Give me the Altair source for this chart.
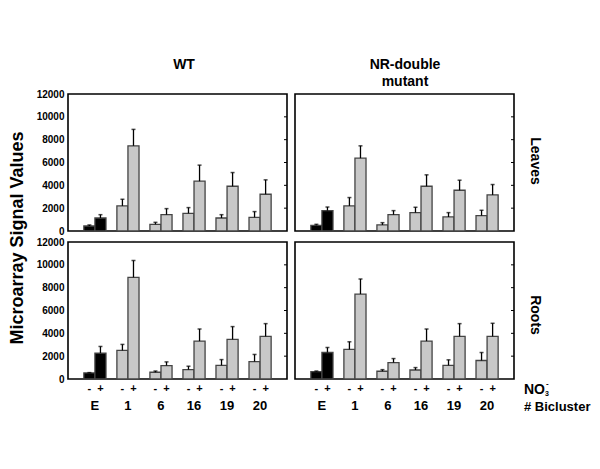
import altair as alt
import pandas as pd

FONT = "Liberation Sans"

groups = ["E", "1", "6", "16", "19", "20"]
signs = ["-", "+"]
y_ticks = [0, 2000, 4000, 6000, 8000, 10000, 12000]
inner_ticks = [2000, 4000, 6000, 8000, 10000]

col_titles = ["WT", "NR-double", "mutant"]
row_titles = ["Leaves", "Roots"]
y_title = "Microarray Signal Values"
nitrate_label = ["NO", "3", "-"]
group_title = "# Bicluster"

# WT leaves
wt_leaf_minus = [440, 2200, 585, 1550, 1140, 1200]
wt_leaf_minus_err = [90, 580, 175, 500, 290, 500]
wt_leaf_plus = [1140, 7460, 1430, 4360, 3920, 3220]
wt_leaf_plus_err = [290, 1440, 530, 1410, 1200, 1260]
# NR-double mutant leaves
mu_leaf_minus = [500, 2200, 530, 1610, 1230, 1350]
mu_leaf_minus_err = [85, 730, 200, 470, 380, 465]
mu_leaf_plus = [1785, 6380, 1430, 3920, 3570, 3160]
mu_leaf_plus_err = [315, 1080, 355, 1000, 880, 910]
# WT roots
wt_root_minus = [530, 2500, 590, 820, 1200, 1530]
wt_root_minus_err = [30, 530, 110, 300, 500, 620]
wt_root_plus = [2265, 8910, 1180, 3320, 3470, 3735]
wt_root_plus_err = [585, 1470, 320, 1060, 1120, 1115]
# NR-double mutant roots
mu_root_minus = [650, 2590, 680, 790, 1200, 1620]
mu_root_minus_err = [50, 670, 140, 210, 480, 700]
mu_root_plus = [2320, 7440, 1440, 3320, 3735, 3735]
mu_root_plus_err = [440, 1320, 350, 1060, 1115, 1145]

W, H = 219, 137
BLACK_FILL = "#000000"
GRAY_FILL = "#c8c8c8"


def label(text, x, y, size, angle=0, align="center"):
    return alt.Chart(pd.DataFrame({"t": [text]})).mark_text(
        font=FONT, fontWeight="bold", fontSize=size, angle=angle,
        align=align, baseline="middle", color="black"
    ).encode(x=alt.value(x), y=alt.value(y), text="t:N")


def panel(minus, minus_err, plus, plus_err, show_y, show_x, extras):
    rows = []
    for i, g in enumerate(groups):
        fill = BLACK_FILL if g == "E" else GRAY_FILL
        rows.append({"group": g, "sign": "-", "value": minus[i],
                     "top": minus[i] + minus_err[i], "fill": fill})
        rows.append({"group": g, "sign": "+", "value": plus[i],
                     "top": plus[i] + plus_err[i], "fill": fill})
    df = pd.DataFrame(rows)
    base = alt.Chart(df)
    x = alt.X("group:N", sort=groups,
              scale=alt.Scale(domain=groups, paddingInner=0.33, paddingOuter=0.48),
              axis=None)
    xo = alt.XOffset("sign:N", sort=signs,
                     scale=alt.Scale(domain=signs, paddingInner=0, paddingOuter=0))

    def yaxis():
        if not show_y:
            return None
        return alt.Axis(values=y_ticks, ticks=False, domain=False, grid=False,
                        format="d", labelOverlap=False, labelFlush=False,
                        labelFont=FONT, labelFontWeight="bold", labelFontSize=10,
                        labelColor="black", labelPadding=4, title=None)

    yscale = alt.Scale(domain=[0, 12000], nice=False, zero=True)
    bars = base.mark_bar(stroke="#444444", strokeWidth=1.3).encode(
        x=x, xOffset=xo,
        y=alt.Y("value:Q", scale=yscale, axis=yaxis()),
        fill=alt.Fill("fill:N", scale=None),
    )
    err = base.mark_rule(color="black", strokeWidth=1.3).encode(
        x=x, xOffset=xo, y=alt.Y("value:Q", scale=yscale, axis=yaxis()), y2="top:Q")
    cap = base.mark_tick(color="black", thickness=1.5, size=4, orient="horizontal").encode(
        x=x, xOffset=xo, y=alt.Y("top:Q", scale=yscale, axis=yaxis()))
    rtick = alt.Chart(pd.DataFrame({"v": inner_ticks})).mark_rule(
        color="black", strokeWidth=1).encode(
        y=alt.Y("v:Q", scale=yscale, axis=yaxis()), x=alt.value(W - 3), x2=alt.value(W))
    layers = [bars, err, cap, rtick]
    if show_x:
        sign_txt = base.mark_text(font=FONT, fontWeight="bold", fontSize=11,
                                  color="black", baseline="middle").encode(
            x=x, xOffset=xo, y=alt.value(147), text="sign:N")
        grp_txt = alt.Chart(pd.DataFrame({"group": groups})).mark_text(
            font=FONT, fontWeight="bold", fontSize=13, color="black",
            baseline="middle").encode(x=x, y=alt.value(164), text="group:N")
        layers += [sign_txt, grp_txt]
    layers += extras
    return alt.layer(*layers).properties(width=W, height=H)


tl = panel(wt_leaf_minus, wt_leaf_minus_err, wt_leaf_plus, wt_leaf_plus_err, True, False,
           [label(col_titles[0], 116, -29, 14),
            label(y_title, -50, 144, 18, angle=270)])
tr = panel(mu_leaf_minus, mu_leaf_minus_err, mu_leaf_plus, mu_leaf_plus_err, False, False,
           [label(col_titles[1], 110, -29, 14),
            label(col_titles[2], 110, -12, 14),
            label(row_titles[0], 240, 67, 14, angle=90)])
bl = panel(wt_root_minus, wt_root_minus_err, wt_root_plus, wt_root_plus_err, True, True, [])
br = panel(mu_root_minus, mu_root_minus_err, mu_root_plus, mu_root_plus_err, False, True,
           [label(row_titles[1], 240, 73, 14, angle=90),
            label(nitrate_label[0], 229, 148, 14, align="left"),
            label(nitrate_label[1], 250, 152, 7, align="left"),
            label(nitrate_label[2], 251, 142, 8, align="left"),
            label(group_title, 229, 165, 13, align="left")])

chart = alt.concat(tl, tr, bl, br, columns=2, spacing={"row": 11, "column": 8},
                   bounds="flush").properties(
    padding={"left": 0, "top": 49, "right": 0, "bottom": 0},
    background="white",
).configure_view(stroke="#000000", strokeWidth=1.6).configure_axis(
    labelOverlap=False
)

chart.save("out.html", embed_options={"renderer": "svg", "actions": False})
